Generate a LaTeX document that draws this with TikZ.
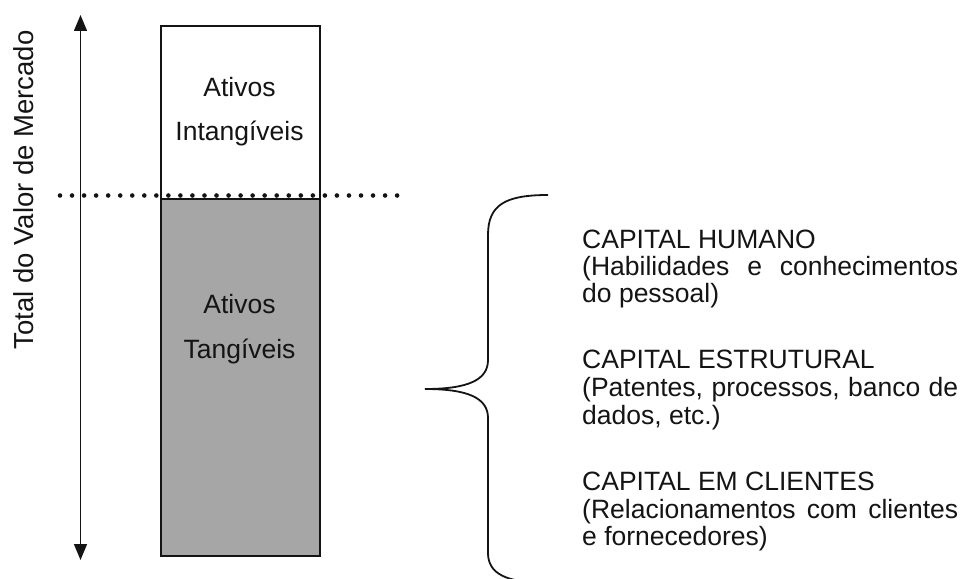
\documentclass[tikz,border=0pt]{standalone}
\usepackage{fontspec}
\setmainfont{Liberation Sans}
\usetikzlibrary{arrows.meta}
\definecolor{boxgray}{RGB}{166,166,166}
\definecolor{inkc}{RGB}{20,20,20}
\begin{document}
\begin{tikzpicture}[x=1pt,y=-1pt,
  txt/.style={font=\fontsize{26.5}{28}\selectfont, inner sep=0pt, text=inkc},
  boxtxt/.style={txt, anchor=base},
  captxt/.style={txt, anchor=base west},
  barbox/.style={draw=inkc, line width=2pt, inner sep=0pt, minimum width=159pt},
]
\useasboundingbox (0,0) rectangle (966,578);
\clip (0,0) rectangle (966,578);
% bar
\node[barbox, fill=white, minimum height=173pt, anchor=north west] (intang) at (160,25) {};
\node[barbox, fill=boxgray, minimum height=357pt, anchor=north west] (tang) at (160,198) {};
\node[boxtxt] (t1) at (239.5,96) {Ativos};
\node[boxtxt] (t2) at (239.5,140) {Intangíveis};
\node[boxtxt] (t3) at (239.5,313) {Ativos};
\node[boxtxt] (t4) at (239.5,358) {Tangíveis};
% axis arrow
\coordinate (atop) at (80.5,15);
\coordinate (abot) at (80.5,560);
\draw[inkc, line width=1.5pt, {Triangle[length=16pt,width=13pt]}-{Triangle[length=16pt,width=13pt]}] (abot) -- (atop);
\node[txt, font=\fontsize{27.5}{29}\selectfont, rotate=90, anchor=base] (lbl) at (33,190) {Total do Valor de Mercado};
% dotted line
\coordinate (d1) at (60,195.5);
\coordinate (d2) at (398,195.5);
\draw[inkc, line width=4.6pt, line cap=round, dash pattern=on 0pt off 12.04pt] (d1) -- (d2);
% brace
\coordinate (btop) at (548,195);
\coordinate (btip) at (425,389);
\coordinate (bbot) at (548,583);
\draw[inkc, line width=1.8pt] (btop) .. controls (505,195) and (488,205) .. (488,235) -- (488,360)
  .. controls (488,380) and (468,389) .. (btip)
  .. controls (468,389) and (488,398) .. (488,418) -- (488,553)
  .. controls (488,573) and (505,583) .. (bbot);
% text
\node[captxt] (c1) at (582,248) {CAPITAL HUMANO};
\node[captxt] (c1a) at (582,275) {\makebox[376pt][s]{(Habilidades e conhecimentos}};
\node[captxt] (c1b) at (582,302) {do pessoal)};
\node[captxt] (c2) at (582,368) {CAPITAL ESTRUTURAL};
\node[captxt] (c2a) at (582,396) {\makebox[376pt][s]{(Patentes, processos, banco de}};
\node[captxt] (c2b) at (582,424) {dados, etc.)};
\node[captxt] (c3) at (582,490) {CAPITAL EM CLIENTES};
\node[captxt] (c3a) at (582,518) {\makebox[376pt][s]{(Relacionamentos com clientes}};
\node[captxt] (c3b) at (582,545) {e fornecedores)};
\end{tikzpicture}
\end{document}
